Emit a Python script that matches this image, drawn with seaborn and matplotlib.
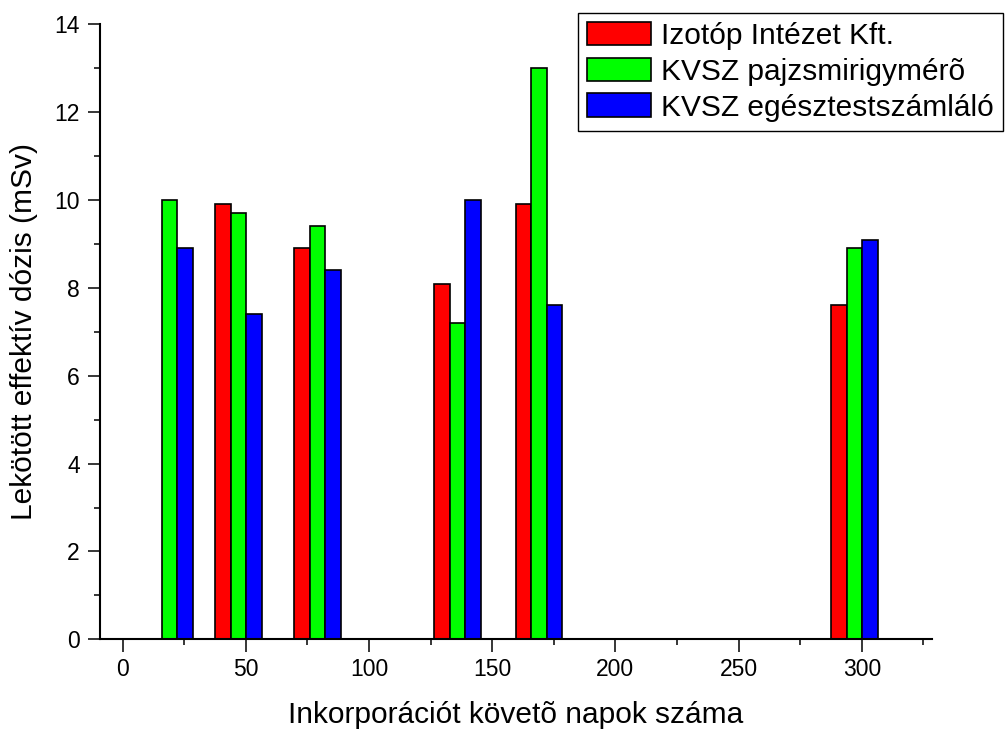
import pandas as pd
import seaborn as sns
import matplotlib.pyplot as plt
from matplotlib.ticker import MultipleLocator

# Days after incorporation and the committed effective dose (mSv) per lab
days = [19, 47, 79, 136, 169, 297]
izotop = [None, 9.9, 8.9, 8.1, 9.9, 7.6]
pajzsmirigy = [10.0, 9.7, 9.4, 7.2, 13.0, 8.9]
egesztest = [8.9, 7.4, 8.4, 10.0, 7.6, 9.1]

series_names = ["Izotóp Intézet Kft.", "KVSZ pajzsmirigymérõ", "KVSZ egésztestszámláló"]
colors = ["#ff0000", "#00ff00", "#0000ff"]

# Long-form table for seaborn
rows = []
for name, vals in zip(series_names, [izotop, pajzsmirigy, egesztest]):
    for d, v in zip(days, vals):
        rows.append({"Nap": d, "Dózis": v, "Mérés": name})
df = pd.DataFrame(rows).dropna()

sns.set_style("ticks")
plt.rcParams['font.family'] = ['Liberation Sans', 'DejaVu Sans']
plt.rcParams['text.color'] = 'black'
plt.rcParams['axes.labelcolor'] = 'black'

fig = plt.figure(figsize=(10.06, 7.33), dpi=100)
ax = fig.add_axes([0.0994, 0.1278, 0.827, 0.839])

sns.barplot(
    data=df, x="Nap", y="Dózis", hue="Mérés", hue_order=series_names,
    palette=colors, native_scale=True, width=0.675, errorbar=None,
    edgecolor="black", linewidth=1.2, saturation=1, ax=ax,
)

ax.set_xlim(-9.2, 328.5)
ax.set_ylim(0, 14)
ax.xaxis.set_major_locator(MultipleLocator(50))
ax.xaxis.set_minor_locator(MultipleLocator(25))
ax.yaxis.set_major_locator(MultipleLocator(2))
ax.yaxis.set_minor_locator(MultipleLocator(1))
ax.tick_params(which="major", direction="out", length=9, width=1.1,
               labelsize=16.5, colors="black")
ax.tick_params(axis="x", which="major", pad=4.5)
ax.tick_params(axis="y", which="major", pad=5.5)
ax.tick_params(which="minor", direction="out", length=4.5, width=1.1,
               colors="black")

for side in ["top", "right"]:
    ax.spines[side].set_visible(False)
for side in ["left", "bottom"]:
    ax.spines[side].set_linewidth(1.5)
    ax.spines[side].set_color("black")

ax.set_xlabel("Inkorporációt követõ napok száma", fontsize=21.5,
              labelpad=14, color="black")
ax.set_ylabel("Lekötött effektív dózis (mSv)", fontsize=21.5,
              labelpad=12, color="black")

# Legend in the upper right corner, poking out past the axes
sns.move_legend(
    ax, "upper right", bbox_to_anchor=(1003 / 1006, 1 - 12.7 / 733),
    bbox_transform=fig.transFigure, title=None, fontsize=21.5,
    frameon=True, fancybox=False, framealpha=1, edgecolor="black",
    handlelength=2.17, handleheight=0.84, handletextpad=0.33,
    labelspacing=0.26, borderpad=0.3, borderaxespad=0,
)
leg = ax.get_legend()
leg.get_frame().set_linewidth(1.0)
for h in leg.legend_handles:
    h.set_edgecolor("black")
    h.set_linewidth(1.2)
for t in leg.get_texts():
    t.set_color("black")

plt.savefig("out.png", dpi=100)
